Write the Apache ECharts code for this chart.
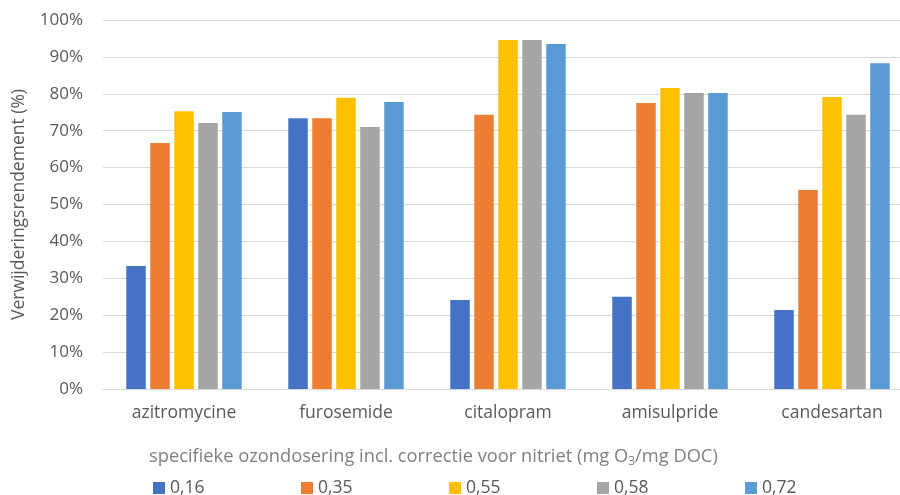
<!DOCTYPE html>
<html>
<head>
<meta charset="utf-8">
<script src="https://cdn.jsdelivr.net/npm/echarts@6/dist/echarts.min.js"></script>
<style>
  html, body { margin: 0; padding: 0; background: #fff; }
  #chart { width: 900px; height: 495px; }
</style>
</head>
<body>
<div id="chart"></div>
<script>
// Removal efficiency per compound for five specific ozone doses
const categories = ['azitromycine', 'furosemide', 'citalopram', 'amisulpride', 'candesartan'];
const doseNames = ['0,16', '0,35', '0,55', '0,58', '0,72'];
const dose016 = [33.3, 73.4, 24.1, 25.0, 21.4];
const dose035 = [66.7, 73.4, 74.3, 77.5, 53.9];
const dose055 = [75.3, 78.9, 94.6, 81.6, 79.1];
const dose058 = [72.1, 71.0, 94.6, 80.2, 74.3];
const dose072 = [75.1, 77.8, 93.5, 80.2, 88.3];
const yTicks = [0, 10, 20, 30, 40, 50, 60, 70, 80, 90, 100];

const seriesValues = [dose016, dose035, dose055, dose058, dose072];
const colors = ['#4472C4', '#ED7D31', '#FFC000', '#A5A5A5', '#5B9BD5'];
const FONT = 'Open Sans';

const chart = echarts.init(document.getElementById('chart'), null, { renderer: 'canvas' });

// one legend block per dose so the entries sit on a fixed pitch
const legends = doseNames.map((name, i) => ({
  data: [name],
  left: 153 + i * 148,
  top: 479,
  padding: 0,
  icon: 'rect',
  itemWidth: 12,
  itemHeight: 12,
  itemGap: 4,
  textStyle: { fontFamily: FONT, fontSize: 17.5, color: '#595959' }
}));

chart.setOption({
  animation: false,
  color: colors,
  textStyle: { fontFamily: FONT },
  grid: { left: 103, top: 20, width: 810, height: 369, containLabel: false, outerBoundsMode: 'none' },
  title: {
    left: 144,
    top: 441,
    text: '{t|specifieke ozondosering incl. correctie voor nitriet (mg O}{s|3}{t|/mg DOC)}',
    textStyle: {
      fontWeight: 'normal',
      rich: {
        t: { fontFamily: FONT, fontSize: 18.3, color: '#7f7f7f', fontWeight: 'normal' },
        s: { fontFamily: FONT, fontSize: 12, color: '#7f7f7f', fontWeight: 'normal', verticalAlign: 'bottom', padding: [10, 0, 0, 0] }
      }
    }
  },
  legend: legends,
  xAxis: {
    type: 'category',
    data: categories,
    axisLine: { lineStyle: { color: '#d9d9d9', width: 1 } },
    axisTick: { show: false },
    axisLabel: { fontFamily: FONT, fontSize: 17.5, color: '#595959', margin: 15 }
  },
  yAxis: {
    type: 'value',
    min: yTicks[0],
    max: yTicks[yTicks.length - 1],
    interval: 10,
    name: 'Verwijderingsrendement (%)',
    nameLocation: 'middle',
    nameGap: 75,
    nameTextStyle: { fontFamily: FONT, fontSize: 17.5, color: '#595959' },
    axisLine: { show: false },
    axisTick: { show: false },
    axisLabel: { fontFamily: FONT, fontSize: 17, color: '#595959', margin: 20, formatter: v => v + '%' },
    splitLine: { lineStyle: { color: '#d9d9d9', width: 1 } }
  },
  series: seriesValues.map((vals, i) => ({
    name: doseNames[i],
    type: 'bar',
    data: vals,
    barWidth: 19.5,
    barGap: '23%',
    itemStyle: { color: colors[i] }
  }))
});
</script>
</body>
</html>
